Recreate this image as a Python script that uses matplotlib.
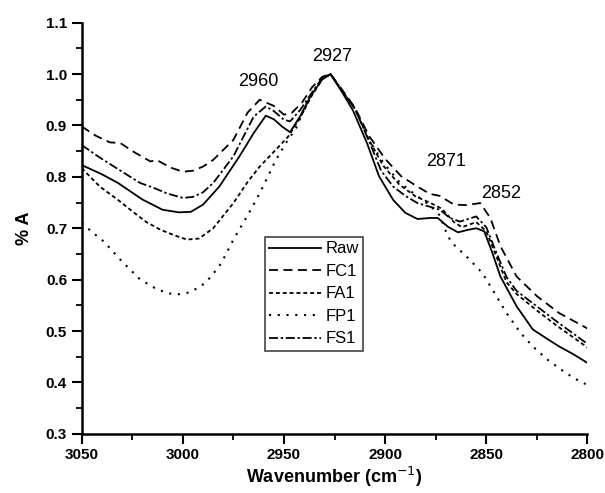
import matplotlib
matplotlib.use("Agg")
from matplotlib import pyplot as plt

plt.rcParams['font.family'] = ['Liberation Sans', 'DejaVu Sans']

# Raw
raw_wn = [3050, 3040, 3032, 3020, 3010, 3002, 2996, 2990, 2982, 2972, 2965, 2959, 2955, 2951,
          2947, 2942, 2937, 2931, 2927, 2921, 2916, 2909, 2903, 2896, 2890, 2884, 2878, 2874,
          2869, 2864, 2859, 2855, 2851, 2847, 2843, 2835, 2827, 2820, 2814, 2807, 2800]
raw_a = [0.823, 0.805, 0.788, 0.756, 0.736, 0.731, 0.732, 0.746, 0.781, 0.840, 0.885, 0.919, 0.912, 0.898,
         0.887, 0.918, 0.956, 0.990, 1.000, 0.963, 0.930, 0.866, 0.801, 0.755, 0.730, 0.718, 0.720, 0.720,
         0.703, 0.692, 0.697, 0.700, 0.694, 0.652, 0.606, 0.548, 0.503, 0.485, 0.470, 0.455, 0.438]

# FC1
fc1_wn = [3050, 3043, 3036, 3031, 3024, 3016, 3013, 3006, 3000, 2995, 2990, 2985, 2975, 2968, 2962,
          2955, 2950, 2946, 2941, 2936, 2931, 2927, 2921, 2915, 2908, 2900, 2892, 2884, 2878, 2873,
          2866, 2860, 2853, 2848, 2843, 2835, 2825, 2814, 2800]
fc1_a = [0.898, 0.880, 0.867, 0.866, 0.848, 0.830, 0.833, 0.818, 0.810, 0.812, 0.820, 0.833, 0.872, 0.925, 0.950,
         0.938, 0.921, 0.925, 0.945, 0.975, 0.995, 1.000, 0.968, 0.935, 0.880, 0.835, 0.801, 0.781, 0.767, 0.763,
         0.746, 0.745, 0.749, 0.720, 0.665, 0.606, 0.568, 0.535, 0.505]

# FA1
fa1_wn = [3050, 3041, 3032, 3024, 3018, 3011, 3004, 2998, 2992, 2985, 2975, 2968, 2962, 2954, 2948,
          2942, 2936, 2931, 2927, 2921, 2915, 2908, 2901, 2893, 2885, 2878, 2872, 2866, 2862, 2855,
          2850, 2845, 2840, 2835, 2825, 2815, 2800]
fa1_a = [0.817, 0.781, 0.755, 0.730, 0.712, 0.697, 0.686, 0.678, 0.680, 0.700, 0.749, 0.790, 0.820, 0.853, 0.878,
         0.915, 0.960, 0.990, 1.000, 0.966, 0.933, 0.872, 0.822, 0.785, 0.762, 0.750, 0.738, 0.712, 0.702, 0.712,
         0.694, 0.645, 0.595, 0.572, 0.540, 0.510, 0.468]

# FP1
fp1_wn = [3050, 3044, 3039, 3030, 3021, 3014, 3008, 3003, 2997, 2991, 2986, 2981, 2975, 2968, 2962,
          2954, 2949, 2944, 2938, 2932, 2927, 2921, 2915, 2908, 2901, 2893, 2885, 2878, 2873, 2869,
          2866, 2859, 2852, 2847, 2840, 2833, 2827, 2820, 2813, 2807, 2800]
fp1_a = [0.710, 0.690, 0.674, 0.635, 0.600, 0.584, 0.574, 0.571, 0.575, 0.587, 0.606, 0.632, 0.678, 0.725, 0.768,
         0.833, 0.866, 0.895, 0.950, 0.988, 1.000, 0.966, 0.933, 0.872, 0.828, 0.790, 0.765, 0.745, 0.725, 0.684,
         0.668, 0.642, 0.613, 0.581, 0.535, 0.496, 0.470, 0.445, 0.425, 0.409, 0.395]

# FS1
fs1_wn = [3050, 3042, 3034, 3028, 3021, 3014, 3008, 3000, 2995, 2990, 2985, 2975, 2965, 2959, 2955,
          2950, 2947, 2942, 2936, 2931, 2927, 2921, 2915, 2908, 2902, 2896, 2890, 2884, 2878, 2873,
          2868, 2863, 2855, 2850, 2845, 2840, 2835, 2825, 2815, 2800]
fs1_a = [0.862, 0.840, 0.820, 0.805, 0.788, 0.778, 0.768, 0.759, 0.761, 0.770, 0.788, 0.840, 0.917, 0.937, 0.928,
         0.911, 0.908, 0.930, 0.965, 0.993, 1.000, 0.966, 0.933, 0.870, 0.812, 0.781, 0.763, 0.749, 0.742, 0.736,
         0.720, 0.713, 0.723, 0.702, 0.652, 0.605, 0.578, 0.548, 0.518, 0.475]

peaks = ['2960', '2927', '2871', '2852']
peak_pos = [(2962.5, 0.985), (2926, 1.035), (2870, 0.83), (2842.5, 0.767)]

fig = plt.figure(figsize=(6.05, 4.93), dpi=100)
ax = fig.add_axes([0.135, 0.12, 0.836, 0.834])

lw = 1.3
ax.plot(raw_wn, raw_a, color='black', lw=lw, ls='-', label='Raw')
ax.plot(fc1_wn, fc1_a, color='black', lw=lw, ls=(0, (5, 3)), label='FC1')
ax.plot(fa1_wn, fa1_a, color='black', lw=lw, ls=(0, (2.2, 1.6)), label='FA1')
ax.plot(fp1_wn, fp1_a, color='black', lw=1.5, ls=(0, (1, 3.2)), label='FP1')
ax.plot(fs1_wn, fs1_a, color='black', lw=lw, ls=(0, (5, 1.5, 1.3, 1.5)), label='FS1')

for txt, (x, y) in zip(peaks, peak_pos):
    ax.text(x, y, txt, ha='center', va='center', fontsize=13)

ax.set_xlim(3050, 2800)
ax.set_ylim(0.3, 1.1)
ax.set_xticks([3050, 3000, 2950, 2900, 2850, 2800])
ax.set_xticks([3025, 2975, 2925, 2875, 2825], minor=True)
ax.set_yticks([0.3, 0.4, 0.5, 0.6, 0.7, 0.8, 0.9, 1.0, 1.1])
ax.set_yticks([0.35, 0.45, 0.55, 0.65, 0.75, 0.85, 0.95, 1.05], minor=True)
ax.set_yticklabels(['0.3', '0.4', '0.5', '0.6', '0.7', '0.8', '0.9', '1.0', '1.1'])

for s in ['top', 'right']:
    ax.spines[s].set_visible(False)
for s in ['left', 'bottom']:
    ax.spines[s].set_linewidth(1.8)
ax.tick_params(which='major', direction='out', length=7, width=1.5, labelsize=11)
ax.tick_params(which='minor', direction='out', length=4.5, width=1.3)
for lab in ax.get_xticklabels() + ax.get_yticklabels():
    lab.set_fontweight('bold')

ax.set_xlabel('Wavenumber (cm$^{-1}$)', fontsize=13, fontweight='bold', labelpad=2)
ax.set_ylabel('% A', fontsize=13, fontweight='bold', labelpad=9)

leg = ax.legend(loc='upper left', bbox_to_anchor=(0.3625, 0.478), fontsize=12,
                handlelength=3.1, handletextpad=0.3, labelspacing=0.45, borderpad=0.25,
                borderaxespad=0, fancybox=False, framealpha=1)
leg.get_frame().set_edgecolor('#444444')
leg.get_frame().set_linewidth(1.2)

fig.savefig('out.png', dpi=100)
